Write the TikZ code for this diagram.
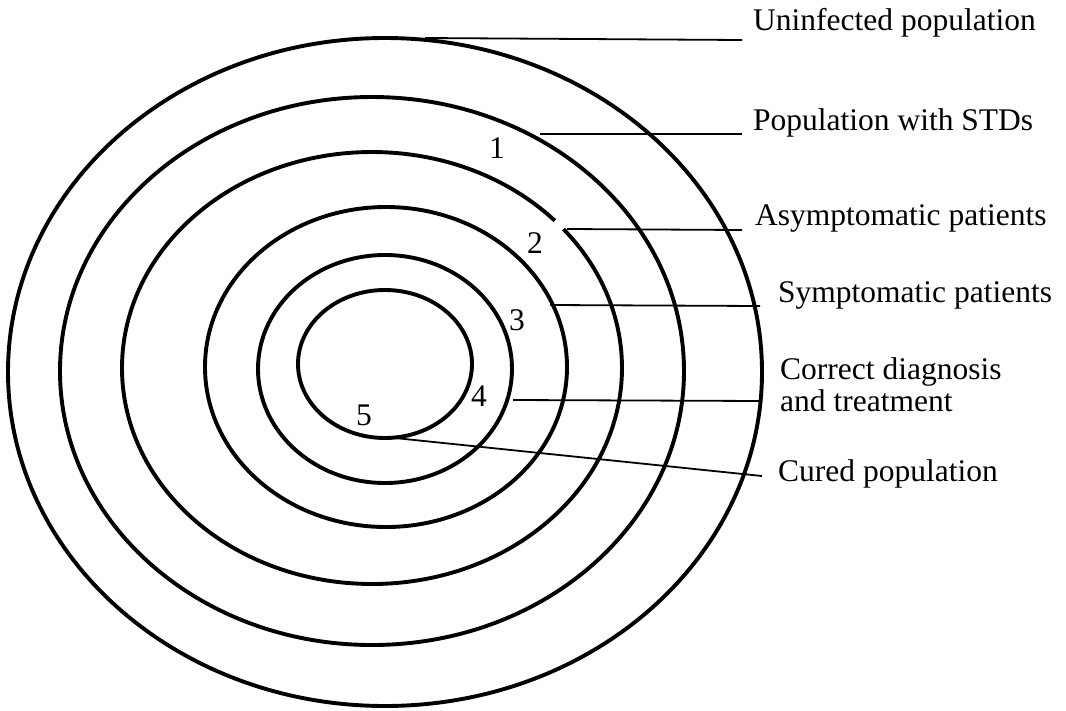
\documentclass[tikz,border=0pt]{standalone}
\usepackage{fontspec}
\setmainfont{Liberation Serif}
\begin{document}
\begin{tikzpicture}[x=1pt,y=-1pt,
  ring/.style={line width=3.9pt},
  leader/.style={line width=1.8pt},
  lbl/.style={anchor=base west,inner sep=0pt,font=\fontsize{31.5}{38}\selectfont},
  num/.style={inner sep=0pt,font=\fontsize{31.5}{38}\selectfont}]
\useasboundingbox (0,0) rectangle (1066,710);
% rings
\draw[ring] (385,372) ellipse [x radius=377pt, y radius=334pt];
\draw[ring] (372,371) ellipse [x radius=312pt, y radius=274pt];
\draw[ring] ([shift={(43:250pt and 216pt)}]372,368) arc[start angle=43, end angle=400, x radius=250pt, y radius=216pt];
\draw[ring] (386,367) ellipse [x radius=181pt, y radius=160pt];
\draw[ring] (385,369) ellipse [x radius=127pt, y radius=114pt];
\draw[ring] (385,364) ellipse [x radius=87pt, y radius=74pt];
% numbers
\node[num] (n1) at (497,148) {1};
\node[num] (n2) at (535,243) {2};
\node[num] (n3) at (517,320) {3};
\node[num] (n4) at (479,396) {4};
\node[num] (n5) at (364,415) {5};
% labels
\node[lbl] (t1) at (753,30) {Uninfected population};
\node[lbl] (t2) at (753,130) {Population with STDs};
\node[lbl] (t3) at (755,225) {Asymptomatic patients};
\node[lbl] (t4) at (778,302) {Symptomatic patients};
\node[lbl] (t5) at (780,379) {Correct diagnosis};
\node[lbl] (t5b) at (780,411) {and treatment};
\node[lbl] (t6) at (778,481) {Cured population};
% leader coordinates
\coordinate (c1) at (425,38);  \coordinate (e1) at (742,40);
\coordinate (c2) at (540,134); \coordinate (e2) at (742,134);
\coordinate (c3) at (567,229); \coordinate (e3) at (742,230);
\coordinate (c4) at (550,305); \coordinate (e4) at (760,306);
\coordinate (c5) at (513,400); \coordinate (e5) at (762,401);
\coordinate (c6) at (395,438); \coordinate (e6) at (762,476);
\draw[leader] (c1) -- (e1);
\draw[leader] (c2) -- (e2);
\draw[leader] (c3) -- (e3);
\draw[leader] (c4) -- (e4);
\draw[leader] (c5) -- (e5);
\draw[leader] (c6) -- (e6);
\end{tikzpicture}
\end{document}
